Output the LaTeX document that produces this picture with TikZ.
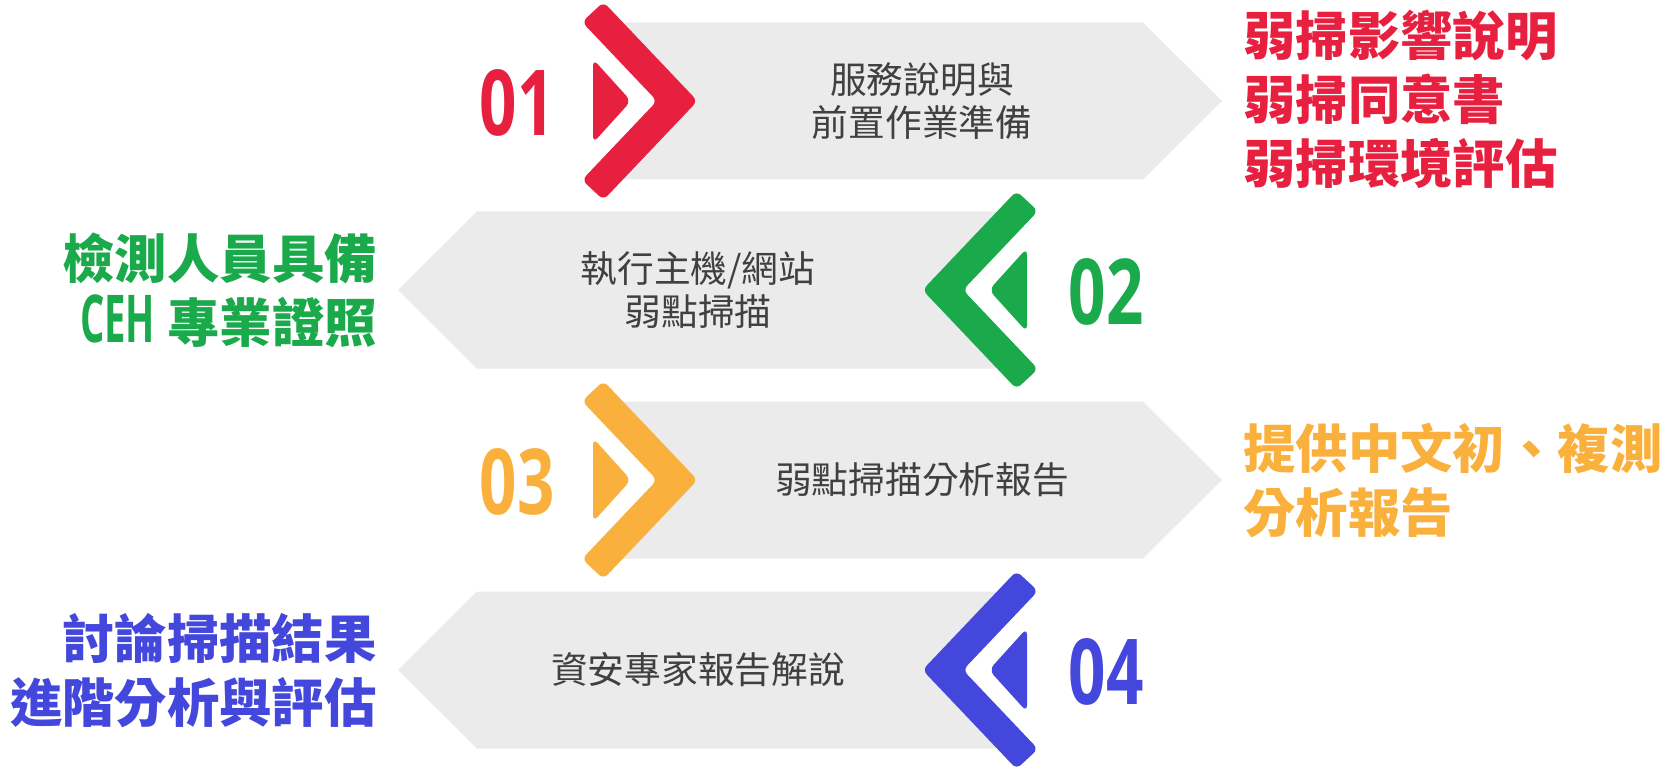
\documentclass[tikz,border=0pt]{standalone}
\usepackage{fontspec}
\setmainfont{Noto Sans CJK TC}
\newfontfamily\numfont[FakeStretch=0.72]{Open Sans}
\newfontfamily\cehfont[FakeStretch=0.58]{Open Sans}

\definecolor{stepred}{HTML}{E82040}
\definecolor{stepgreen}{HTML}{1BAA4B}
\definecolor{steporange}{HTML}{FAB03C}
\definecolor{stepblue}{HTML}{4447DC}
\definecolor{bandgray}{HTML}{EBEBEB}
\definecolor{textgray}{HTML}{404040}

\begin{document}
\begin{tikzpicture}[x=1pt, y=-1pt,
	band/.style={fill=bandgray},
	chev/.style={rounded corners=6pt},
	tab/.style={rounded corners=7pt},
	num/.style={inner sep=0pt, font=\numfont\bfseries\fontsize{91}{91}\selectfont},
	body/.style={inner sep=0pt, text=textgray, align=center, font=\fontsize{36.7}{43}\selectfont},
	note/.style={inner sep=0pt, font=\bfseries\fontsize{52.4}{64}\selectfont}]

	\useasboundingbox (0,0) rectangle (1671,770);

	% steps pointing right
	\foreach \c/\col in {101/stepred, 480/steporange} {
		\begin{scope}[shift={(0,\c)}]
			\fill[band] (615,-78.5) -- (1143,-78.5) -- (1222,0) -- (1143,78.5) -- (615,78.5) -- (670,0) -- cycle;
			\fill[chev, \col] (582,-79) -- (603.5,-99) -- (697.5,0) -- (603.5,99) -- (582,79) -- (657,0) -- cycle;
			\fill[tab, \col] (593,-42) -- (631,0) -- (593,42) -- cycle;
		\end{scope}
	}

	% steps pointing left (mirrored)
	\foreach \c/\col in {290/stepgreen, 670/stepblue} {
		\begin{scope}[shift={(1620,\c)}, xscale=-1]
			\fill[band] (615,-78.5) -- (1143,-78.5) -- (1222,0) -- (1143,78.5) -- (615,78.5) -- (670,0) -- cycle;
			\fill[chev, \col] (582,-79) -- (603.5,-99) -- (697.5,0) -- (603.5,99) -- (582,79) -- (657,0) -- cycle;
			\fill[tab, \col] (593,-42) -- (631,0) -- (593,42) -- cycle;
		\end{scope}
	}

	% step numbers
	\node[num, text=stepred] (num1) at (517,103) {01};
	\node[num, text=stepgreen] (num2) at (1106,292) {02};
	\node[num, text=steporange] (num3) at (517,482) {03};
	\node[num, text=stepblue] (num4) at (1106,672) {04};

	% texts in the bands
	\node[body] (task1) at (922,101.5) {服務說明與\\前置作業準備};
	\node[body] (task2) at (698,290.5) {執行主機/網站\\弱點掃描};
	\node[body] (task3) at (922,480) {弱點掃描分析報告};
	\node[body] (task4) at (698,670) {資安專家報告解說};

	% notes beside the bands
	\node[note, text=stepred, anchor=west, align=left] (note1) at (1243,99) {弱掃影響說明\\弱掃同意書\\弱掃環境評估};
	\node[note, text=stepgreen, anchor=east, align=right] (note2) at (377,290) {檢測人員具備\\{\cehfont\fontsize{66}{64}\selectfont CEH} 專業證照};
	\node[note, text=steporange, anchor=west, align=left] (note3) at (1243,480.5) {提供中文初、複測\\分析報告};
	\node[note, text=stepblue, anchor=east, align=right] (note4) at (377,670.5) {討論掃描結果\\進階分析與評估};

\end{tikzpicture}
\end{document}
